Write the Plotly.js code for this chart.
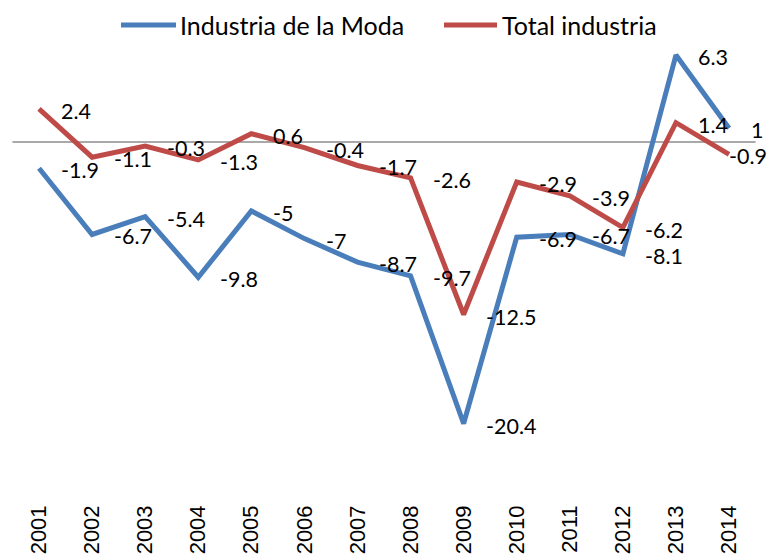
<!DOCTYPE html>
<html>
<head>
<meta charset="utf-8">
<script src="https://cdn.plot.ly/plotly-3.0.1.min.js"></script>
<style>html,body{margin:0;padding:0;background:#fff;}#chart{width:769px;height:560px;}</style>
</head>
<body>
<div id="chart"></div>
<script>
const years = [2001,2002,2003,2004,2005,2006,2007,2008,2009,2010,2011,2012,2013,2014];
const modaName = "Industria de la Moda";
const modaValues = [-1.9,-6.7,-5.4,-9.8,-5,-7,-8.7,-9.7,-20.4,-6.9,-6.7,-8.1,6.3,1];
const totalName = "Total industria";
const totalValues = [2.4,-1.1,-0.3,-1.3,0.6,-0.4,-1.7,-2.6,-12.5,-2.9,-3.9,-6.2,1.4,-0.9];
const tickLabels = years.map(String);

const W = 769, H = 560;
const blue = "#4A7EBB", red = "#BE4B48";
const labelFont = {family: "Lato, sans-serif", size: 21.5, color: "#000"};
const xRange = [2000.265, 2014.753];

function labels(vals) {
  return vals.map((v, i) => {
    const txt = String(v);
    const px = (years[i] - xRange[0]) / (xRange[1] - xRange[0]) * W;
    const estW = txt.length * 10.5;
    if (px + 22 + estW > W) {
      return {x: 1, xref: "paper", y: v, yref: "y", text: txt, showarrow: false,
        xanchor: "right", yanchor: "middle", yshift: -2, font: labelFont};
    }
    return {x: years[i], y: v, xref: "x", yref: "y", text: txt, showarrow: false,
      xanchor: "left", yanchor: "middle", xshift: 20, yshift: -2, font: labelFont};
  });
}

const traces = [
  {x: years, y: modaValues, name: modaName, type: "scatter", mode: "lines",
   line: {color: blue, width: 5}, showlegend: false, hoverinfo: "skip"},
  {x: years, y: totalValues, name: totalName, type: "scatter", mode: "lines",
   line: {color: red, width: 5}, showlegend: false, hoverinfo: "skip"}
];

const legY = 1 - 25/500;
const legendFont = {family: "Lato, sans-serif", size: 25, color: "#000"};
const shapes = [
  {type: "line", xref: "x", yref: "y", x0: 2000.5, x1: 2014.5, y0: 0, y1: 0,
   line: {color: "#8C8C8C", width: 1.5}, layer: "below"},
  {type: "line", xref: "paper", yref: "paper", x0: 121/W, x1: 176/W, y0: legY, y1: legY,
   line: {color: blue, width: 5}},
  {type: "line", xref: "paper", yref: "paper", x0: 444/W, x1: 497/W, y0: legY, y1: legY,
   line: {color: red, width: 5}}
];
const legendAnn = [
  {xref: "paper", yref: "paper", x: 178/W, y: legY, text: modaName, showarrow: false,
   xanchor: "left", yanchor: "middle", font: legendFont},
  {xref: "paper", yref: "paper", x: 500/W, y: legY, text: totalName, showarrow: false,
   xanchor: "left", yanchor: "middle", font: legendFont}
];

const layout = {
  width: W, height: H,
  margin: {l: 0, r: 0, t: 0, b: 60, pad: 0},
  paper_bgcolor: "#fff", plot_bgcolor: "#fff",
  showlegend: false,
  xaxis: {range: xRange, tickmode: "array", tickvals: years, ticktext: tickLabels,
          tickangle: -90, showgrid: false, zeroline: false, showline: false, ticks: "",
          tickfont: {family: "Liberation Sans, Arial, sans-serif", size: 22, color: "#000"}},
  yaxis: {range: [-25.94, 10.29], showgrid: false, zeroline: false, showline: false,
          showticklabels: false, ticks: ""},
  shapes: shapes,
  annotations: labels(modaValues).concat(labels(totalValues)).concat(legendAnn)
};

Plotly.newPlot("chart", traces, layout, {staticPlot: true, displayModeBar: false});
</script>
</body>
</html>
